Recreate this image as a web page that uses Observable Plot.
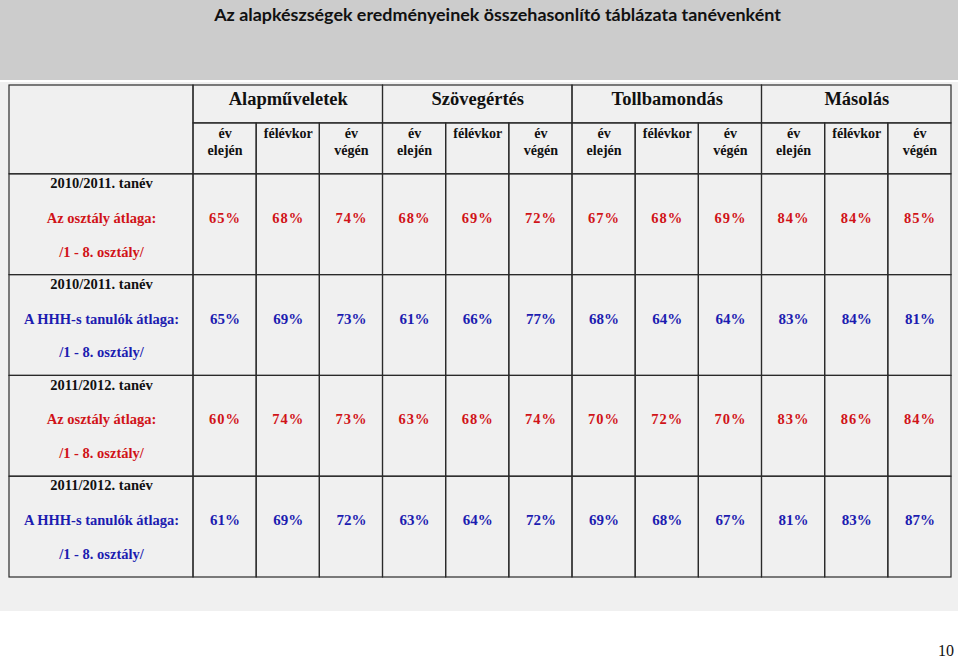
<!DOCTYPE html>
<html>
<head>
<meta charset="utf-8">
<script src="https://cdn.jsdelivr.net/npm/d3@7"></script>
<script src="https://cdn.jsdelivr.net/npm/@observablehq/plot@0.6"></script>
<style>
  html, body { margin: 0; padding: 0; background: #ffffff; }
  #page { position: relative; width: 960px; height: 661px; }
  #title {
    position: absolute; left: 0; top: 0; width: 958px; height: 80px;
    background: #cccccc; box-sizing: border-box; padding-left: 37px;
    text-align: center; font-family: Lato, "Open Sans", sans-serif;
    font-weight: bold; font-size: 17.9px; line-height: 28px; color: #111;
  }
  #chart { position: absolute; left: 0; top: 82px; }
  #chart svg { display: block; }
  #pagenum {
    position: absolute; right: 6px; top: 642px;
    font-family: "Liberation Serif", serif; font-size: 16px; color: #111;
  }
</style>
</head>
<body>
<div id="page">
  <div id="title">Az alapkészségek eredményeinek összehasonlító táblázata tanévenként</div>
  <div id="chart"></div>
  <div id="pagenum">10</div>
</div>
<script>
// ---- data ----
const groups = ["Alapműveletek", "Szövegértés", "Tollbamondás", "Másolás"];
const subheads = [["év", "elején"], ["félévkor"], ["év", "végén"]];
const rowYears = ["2010/2011. tanév", "2010/2011. tanév", "2011/2012. tanév", "2011/2012. tanév"];
const rowLabels = ["Az osztály átlaga:", "A HHH-s tanulók átlaga:", "Az osztály átlaga:", "A HHH-s tanulók átlaga:"];
const rowScope = "/1 - 8. osztály/";
const rowKinds = ["osztály", "HHH", "osztály", "HHH"];
const values2010Class = [65, 68, 74, 68, 69, 72, 67, 68, 69, 84, 84, 85];
const values2010HHH   = [65, 69, 73, 61, 66, 77, 68, 64, 64, 83, 84, 81];
const values2011Class = [60, 74, 73, 63, 68, 74, 70, 72, 70, 83, 86, 84];
const values2011HHH   = [61, 69, 72, 63, 64, 72, 69, 68, 67, 81, 83, 87];
const rowValues = [values2010Class, values2010HHH, values2011Class, values2011HHH];

// ---- layout in table units ----
const labelW = 2.913;         // width of label column (in data-column units)
const hGroup = 0.376;         // group header row height (in data-row units)
const hSub = 0.505;           // sub header row height
const top0 = hGroup + hSub;   // first data row top
const nCols = groups.length * subheads.length;
const totalW = labelW + nCols;
const totalH = top0 + rowValues.length;

const colorOf = {"osztály": "#d01318", "HHH": "#1c1cb0"};

// cells
const cells = [];
cells.push({x1: 0, x2: labelW, y1: 0, y2: top0});
groups.forEach((g, gi) => cells.push({x1: labelW + gi * 3, x2: labelW + gi * 3 + 3, y1: 0, y2: hGroup}));
for (let c = 0; c < nCols; c++) cells.push({x1: labelW + c, x2: labelW + c + 1, y1: hGroup, y2: top0});
rowValues.forEach((vals, r) => {
  cells.push({x1: 0, x2: labelW, y1: top0 + r, y2: top0 + r + 1});
  vals.forEach((v, c) => cells.push({x1: labelW + c, x2: labelW + c + 1, y1: top0 + r, y2: top0 + r + 1}));
});

// header texts
const groupTexts = groups.map((g, gi) => ({x: labelW + gi * 3 + 1.5, y: 0.13, text: g}));
const subTexts = [];
for (let c = 0; c < nCols; c++) {
  const s = subheads[c % 3];
  s.forEach((line, li) => subTexts.push({x: labelW + c + 0.5, y: li === 0 ? 0.475 : 0.645, text: line}));
}

// row label texts
const yearTexts = rowYears.map((t, r) => ({x: labelW / 2, y: top0 + r + 0.09, text: t}));
const labelTexts = rowLabels.map((t, r) => ({x: labelW / 2, y: top0 + r + 0.435, text: t, kind: rowKinds[r]}));
const scopeTexts = rowKinds.map((k, r) => ({x: labelW / 2, y: top0 + r + 0.77, text: rowScope, kind: k}));

// value texts
const valueTexts = [];
rowValues.forEach((vals, r) => vals.forEach((v, c) =>
  valueTexts.push({x: labelW + c + 0.5, y: top0 + r + 0.435, text: v + "%", kind: rowKinds[r]})));

const serif = "Liberation Serif";

const plot = Plot.plot({
  width: 958,
  height: 529,
  marginTop: 0, marginBottom: 0, marginLeft: 0, marginRight: 0,
  x: {type: "linear", domain: [0, totalW], range: [9, 951], axis: null},
  y: {type: "linear", domain: [0, totalH], range: [3, 495], axis: null},
  style: {background: "#f0f0f0", overflow: "visible"},
  marks: [
    Plot.rect(cells, {x1: "x1", x2: "x2", y1: "y1", y2: "y2", fill: "none", stroke: "#2a2a2a", strokeWidth: 1.2}),
    Plot.text(groupTexts, {x: "x", y: "y", text: "text", fontFamily: serif, fontSize: 18.5, fontWeight: "bold", fill: "#111", lineAnchor: "middle"}),
    Plot.text(subTexts, {x: "x", y: "y", text: "text", fontFamily: serif, fontSize: 14, fontWeight: "bold", fill: "#111", lineAnchor: "middle"}),
    Plot.text(yearTexts, {x: "x", y: "y", text: "text", fontFamily: serif, fontSize: 14.5, fontWeight: "bold", fill: "#111", lineAnchor: "middle"}),
    Plot.text(labelTexts, {x: "x", y: "y", text: "text", fontFamily: serif, fontSize: 14.5, fontWeight: "bold", fill: d => colorOf[d.kind], lineAnchor: "middle"}),
    Plot.text(scopeTexts, {x: "x", y: "y", text: "text", fontFamily: serif, fontSize: 14.5, fontWeight: "bold", fill: d => colorOf[d.kind], lineAnchor: "middle"}),
    Plot.text(valueTexts.filter(d => d.kind === "osztály"), {x: "x", y: "y", text: "text", fontFamily: serif, fontSize: 14.5, fontWeight: "bold", fill: colorOf["osztály"], lineAnchor: "middle"}),
    Plot.text(valueTexts.filter(d => d.kind === "HHH"), {x: "x", y: "y", text: "text", fontFamily: serif, fontSize: 15, fontWeight: "bold", fill: colorOf["HHH"], lineAnchor: "middle"})
  ]
});
// red values are set with wider letter spacing in the original
d3.select(plot).selectAll("text").filter(function () {
  return /^\d+%$/.test(this.textContent) && (this.getAttribute("fill") === colorOf["osztály"] || (this.parentNode && this.parentNode.getAttribute("fill") === colorOf["osztály"]));
}).style("letter-spacing", "1px");
document.getElementById("chart").appendChild(plot);
</script>
</body>
</html>
